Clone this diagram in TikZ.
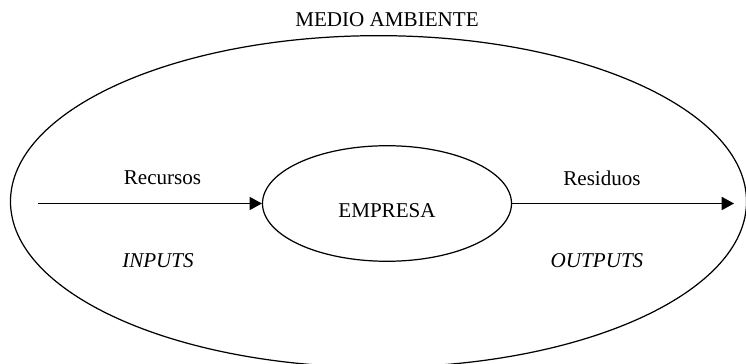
\documentclass[tikz,border=0pt]{standalone}
\usepackage{fontspec}
\setmainfont{Liberation Serif}
\usetikzlibrary{arrows.meta,positioning,shapes.geometric}

\begin{document}
\begin{tikzpicture}[
  x=0.02cm, y=-0.02cm,
  oval/.style={draw, ellipse, line width=0.7pt, inner sep=0pt},
  lbl/.style={font=\fontsize{12}{14}\selectfont, inner sep=0pt},
  arr/.style={-{Triangle[length=7pt, width=7.5pt]}, line width=0.7pt}
]
\useasboundingbox (0,0) rectangle (746,364);
\node[oval, minimum width=739*0.5669pt, minimum height=333*0.5669pt] (ambiente) at (378.5,201.5) {};
\node[oval, minimum width=250*0.5669pt, minimum height=116*0.5669pt] (empresa) at (387,203.5) {};
\node[lbl] (empresatxt) at (387,211) {EMPRESA};
\node[lbl] (medio) at (387,20) {MEDIO AMBIENTE};
\coordinate (entrada) at (38,203.5);
\coordinate (salida) at (734,203.5);
\node[lbl] (recursos) at (162.5,178) {Recursos};
\node[lbl] (inputs) at (158,261) {\itshape INPUTS};
\node[lbl] (residuos) at (602,178) {Residuos};
\node[lbl] (outputs) at (597,261) {\itshape OUTPUTS};
\draw[arr] (entrada) -- (empresa.west);
\draw[arr] (empresa.east) -- (salida);
\end{tikzpicture}
\end{document}
